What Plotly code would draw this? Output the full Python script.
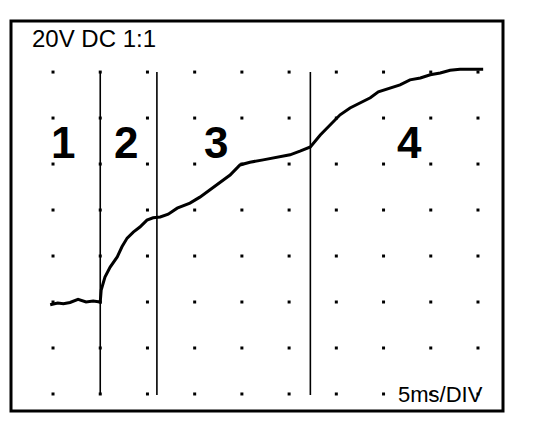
import plotly.graph_objects as go

# Trazo del osciloscopio (en divisiones de la retícula)
t_div = [0.94, 1.10, 1.22, 1.36, 1.53, 1.70, 1.85, 2.00, 2.02, 2.10, 2.21, 2.36,
         2.46, 2.57, 2.70, 2.84, 2.99, 3.12, 3.27, 3.44, 3.63, 3.90, 4.11, 4.33,
         4.54, 4.75, 4.96, 5.17, 5.45, 5.81, 6.02, 6.23, 6.45, 6.66, 6.87, 7.08,
         7.29, 7.50, 7.72, 7.89, 8.14, 8.35, 8.56, 8.78, 8.99, 9.20, 9.41, 9.62,
         9.84, 10.11]
v_div = [2.94, 2.98, 2.96, 2.99, 3.06, 3.00, 3.02, 3.00, 3.26, 3.54, 3.76, 3.98,
         4.20, 4.39, 4.52, 4.63, 4.78, 4.83, 4.85, 4.91, 5.04, 5.15, 5.28, 5.44,
         5.59, 5.76, 5.98, 6.04, 6.09, 6.15, 6.20, 6.28, 6.37, 6.63, 6.85, 7.07,
         7.22, 7.33, 7.44, 7.57, 7.65, 7.72, 7.83, 7.87, 7.94, 7.98, 8.04, 8.06,
         8.06, 8.06]

# Retícula de puntos
cols = [1, 2, 3, 4, 5, 6, 7, 8, 9, 10]
rows = [1, 2, 3, 4, 5, 6, 7, 8]

# Cursores verticales y etiquetas de zona
cursores = [2.0, 3.2, 6.45]
zonas = ["1", "2", "3", "4"]
zonas_x = [1.21, 2.55, 4.45, 8.56]
zonas_y = 6.46

fig = go.Figure()

# Puntos de la retícula
fig.add_trace(go.Scatter(
    x=[c for r in rows for c in cols],
    y=[r for r in rows for c in cols],
    mode="markers",
    marker=dict(symbol="square", size=3, color="black"),
    hoverinfo="skip"
))

# Cursores
for c in cursores:
    fig.add_trace(go.Scatter(
        x=[c, c], y=[rows[0] - 0.02, rows[-1]],
        mode="lines", line=dict(color="black", width=1.6),
        hoverinfo="skip"
    ))

# Señal
fig.add_trace(go.Scatter(
    x=t_div, y=v_div, mode="lines",
    line=dict(color="black", width=3)
))

# Etiquetas de zona
for txt, x in zip(zonas, zonas_x):
    fig.add_annotation(
        x=x, y=zonas_y, text=txt, showarrow=False,
        font=dict(size=44, color="black", family="Arial, Liberation Sans", weight="bold")
    )

fig.add_annotation(
    x=0.51, y=8.72, text="20V DC 1:1", showarrow=False,
    xanchor="left", yanchor="middle",
    font=dict(size=24, color="black", family="Arial, Liberation Sans")
)
fig.add_annotation(
    x=10.15, y=0.98, text="5ms/DIV", showarrow=False,
    xanchor="right", yanchor="middle",
    font=dict(size=22, color="black", family="Arial, Liberation Sans")
)

# Marco
fig.add_shape(type="rect", xref="paper", yref="paper", x0=0, y0=0, x1=1, y1=1,
              line=dict(color="black", width=3))

# la página añade 8 px de margen al cuerpo
fig.update_layout(
    width=536, height=422,
    margin=dict(l=3, r=41, t=13, b=19),
    plot_bgcolor="white", paper_bgcolor="white",
    showlegend=False,
    xaxis=dict(range=[0.11, 10.53], visible=False, fixedrange=True),
    yaxis=dict(range=[0.63, 9.11], visible=False, fixedrange=True),
)

fig.write_html("out.html", config={"displayModeBar": False})
